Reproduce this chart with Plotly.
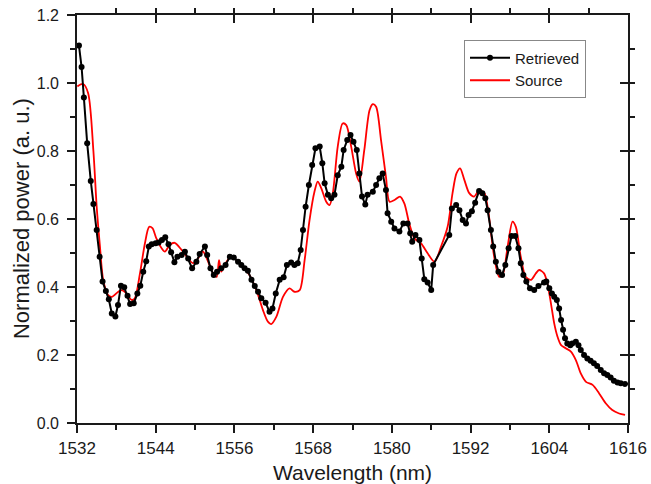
import plotly.graph_objects as go

# Retrieved spectrum (black, markers)
ret_wl = [1532.3, 1532.7, 1533.05, 1533.55, 1534.1, 1534.5, 1535.0, 1535.45, 1535.9, 1536.4,
          1536.85, 1537.3, 1537.85, 1538.25, 1538.7, 1539.2, 1539.7, 1540.1, 1540.65, 1541.2,
          1541.65, 1542.1, 1542.55, 1542.95, 1543.4, 1544.0, 1544.45, 1544.95, 1545.45, 1545.95,
          1546.35, 1546.85, 1547.3, 1547.95, 1548.45, 1548.95, 1549.55, 1550.2, 1550.7, 1551.5,
          1551.85, 1552.35, 1552.85, 1553.35, 1554.0, 1554.65, 1555.3, 1555.9, 1556.55, 1557.05,
          1557.55, 1558.05, 1558.6, 1559.1, 1559.6, 1560.1, 1560.75, 1561.35, 1561.8, 1562.3,
          1562.9, 1563.5, 1564.0, 1564.65, 1565.15, 1565.65, 1566.1, 1566.45, 1566.85, 1567.35,
          1567.85, 1568.35, 1569.0, 1569.4, 1569.75, 1570.25, 1570.75, 1571.25, 1571.75, 1572.3,
          1572.65, 1573.2, 1573.7, 1574.15, 1574.65, 1575.05, 1575.45, 1575.95, 1576.3, 1577.1,
          1577.6, 1578.1, 1578.6, 1579.1, 1579.35, 1579.9, 1580.4, 1581.15, 1581.75, 1582.4,
          1582.8, 1583.1, 1583.6, 1584.2, 1584.55, 1584.95, 1585.45, 1586.0, 1586.3, 1588.75,
          1589.15, 1589.8, 1590.3, 1590.8, 1591.3, 1591.7, 1592.2, 1592.7, 1593.3, 1593.8,
          1594.25, 1594.6, 1595.1, 1595.45, 1595.85, 1596.25, 1596.8, 1597.3, 1597.8, 1598.25,
          1598.8, 1599.3, 1599.65, 1600.05, 1600.5, 1601.05, 1601.7, 1602.35, 1603.2, 1603.55,
          1604.0, 1604.4, 1604.75, 1605.15, 1605.5, 1605.8, 1606.1, 1606.4, 1606.75, 1607.2,
          1607.5, 1608.05, 1608.45, 1608.8, 1609.3, 1609.8, 1610.3, 1610.8, 1611.3, 1611.85,
          1612.35, 1612.85, 1613.35, 1613.85, 1614.4, 1614.9, 1615.55]
ret_val = [1.11, 1.047, 0.957, 0.823, 0.712, 0.644, 0.568, 0.489, 0.416, 0.388,
           0.364, 0.322, 0.313, 0.347, 0.404, 0.399, 0.374, 0.350, 0.352, 0.381,
           0.404, 0.445, 0.476, 0.519, 0.526, 0.529, 0.531, 0.538, 0.546, 0.526,
           0.502, 0.473, 0.489, 0.494, 0.504, 0.484, 0.455, 0.474, 0.497, 0.519,
           0.494, 0.455, 0.435, 0.445, 0.455, 0.465, 0.489, 0.487, 0.474, 0.465,
           0.455, 0.448, 0.421, 0.403, 0.386, 0.367, 0.354, 0.327, 0.337, 0.381,
           0.421, 0.429, 0.465, 0.472, 0.465, 0.470, 0.509, 0.568, 0.636, 0.700,
           0.759, 0.808, 0.813, 0.764, 0.705, 0.671, 0.661, 0.671, 0.729, 0.754,
           0.803, 0.832, 0.847, 0.827, 0.803, 0.734, 0.666, 0.643, 0.671, 0.680,
           0.700, 0.720, 0.734, 0.685, 0.617, 0.592, 0.572, 0.563, 0.587, 0.587,
           0.558, 0.533, 0.553, 0.538, 0.484, 0.423, 0.413, 0.391, 0.465, 0.553,
           0.631, 0.641, 0.626, 0.597, 0.587, 0.612, 0.623, 0.648, 0.682, 0.676,
           0.661, 0.626, 0.568, 0.519, 0.474, 0.445, 0.435, 0.465, 0.514, 0.550,
           0.550, 0.514, 0.470, 0.435, 0.416, 0.396, 0.391, 0.403, 0.413, 0.416,
           0.396, 0.381, 0.371, 0.362, 0.337, 0.303, 0.274, 0.249, 0.234, 0.229,
           0.234, 0.239, 0.229, 0.215, 0.200, 0.190, 0.183, 0.176, 0.168, 0.156,
           0.146, 0.141, 0.134, 0.124, 0.119, 0.117, 0.115]

# Source spectrum (red, smooth)
src_wl = [1532.05, 1532.95, 1533.7, 1534.5, 1535.0, 1535.5, 1536.0, 1536.75, 1537.3, 1538.3,
          1538.8, 1539.55, 1540.3, 1540.8, 1541.6, 1542.35, 1543.0, 1543.5, 1544.1, 1544.9,
          1545.4, 1546.15, 1546.9, 1547.95, 1548.95, 1549.7, 1550.45, 1551.2, 1552.0, 1552.75,
          1553.3, 1553.65, 1554.0, 1554.65, 1555.55, 1556.3, 1557.3, 1558.3, 1559.35, 1560.35,
          1561.1, 1561.6, 1562.4, 1563.4, 1564.4, 1565.15, 1565.95, 1566.7, 1567.45, 1568.2,
          1568.7, 1569.25, 1570.0, 1570.5, 1571.0, 1571.75, 1572.5, 1573.05, 1573.8, 1574.55,
          1575.05, 1575.8, 1576.6, 1577.1, 1577.6, 1578.35, 1579.1, 1579.65, 1580.4, 1581.25,
          1581.9, 1582.65, 1583.45, 1584.45, 1585.45, 1586.5, 1587.5, 1588.5, 1589.25, 1589.85,
          1590.4, 1591.05, 1591.8, 1592.55, 1593.3, 1594.1, 1594.6, 1595.6, 1596.35, 1596.95,
          1597.65, 1598.4, 1598.9, 1599.65, 1600.4, 1601.2, 1601.95, 1602.45, 1603.2, 1603.7,
          1604.25, 1604.75, 1605.25, 1605.8, 1606.5, 1607.3, 1608.05, 1608.8, 1609.6, 1610.6,
          1611.6, 1612.6, 1613.6, 1614.65, 1615.55]
src_val = [0.990, 0.997, 0.970, 0.800, 0.636, 0.519, 0.420, 0.376, 0.371, 0.386,
           0.391, 0.381, 0.362, 0.366, 0.440, 0.528, 0.577, 0.573, 0.543, 0.514,
           0.504, 0.524, 0.530, 0.509, 0.484, 0.470, 0.484, 0.504, 0.474, 0.440,
           0.430, 0.479, 0.445, 0.470, 0.491, 0.479, 0.460, 0.435, 0.391, 0.332,
           0.298, 0.291, 0.313, 0.371, 0.396, 0.386, 0.391, 0.479, 0.597, 0.680,
           0.710, 0.690, 0.651, 0.641, 0.676, 0.813, 0.881, 0.876, 0.813, 0.734,
           0.710, 0.803, 0.920, 0.938, 0.930, 0.832, 0.724, 0.651, 0.656, 0.666,
           0.646, 0.587, 0.543, 0.528, 0.499, 0.474, 0.519, 0.577, 0.676, 0.734,
           0.749, 0.715, 0.676, 0.666, 0.685, 0.676, 0.636, 0.489, 0.430, 0.440,
           0.519, 0.592, 0.577, 0.489, 0.430, 0.421, 0.440, 0.450, 0.440, 0.411,
           0.352, 0.293, 0.254, 0.229, 0.220, 0.210, 0.185, 0.146, 0.121, 0.112,
           0.087, 0.058, 0.038, 0.028, 0.024]

x_ticks = [1532, 1544, 1556, 1568, 1580, 1592, 1604, 1616]
y_ticks = [0.0, 0.2, 0.4, 0.6, 0.8, 1.0, 1.2]
x_range = [1532, 1616]
y_range = [0, 1.2]

FONT = "Liberation Sans, Arial, sans-serif"
AX = "#1a1a1a"

fig = go.Figure()
fig.add_trace(go.Scatter(
    x=src_wl, y=src_val, mode="lines", name="Source",
    line=dict(color="#ff0000", width=1.8, shape="spline", smoothing=0.8),
    legendrank=2))
fig.add_trace(go.Scatter(
    x=ret_wl, y=ret_val, mode="lines+markers", name="Retrieved",
    line=dict(color="black", width=2),
    marker=dict(color="black", size=6),
    legendrank=1))
# invisible helper trace so the mirrored (top/right) axes are drawn
fig.add_trace(go.Scatter(
    x=x_range, y=y_range, xaxis="x2", yaxis="y2", mode="lines",
    line=dict(width=0, color="rgba(0,0,0,0)"), showlegend=False, hoverinfo="skip"))

common_x = dict(range=x_range, tickmode="array", tickvals=x_ticks, automargin=False,
                showline=True, linecolor=AX, linewidth=1.6, showgrid=False, zeroline=False,
                ticklen=8, tickwidth=1.6, tickcolor=AX,
                minor=dict(dtick=6, tick0=1532, ticklen=5, tickwidth=1.6, tickcolor=AX, showgrid=False))
common_y = dict(range=y_range, tickmode="array", tickvals=y_ticks, automargin=False,
                showline=True, linecolor=AX, linewidth=1.6, showgrid=False, zeroline=False,
                ticklen=8, tickwidth=1.6, tickcolor=AX,
                minor=dict(dtick=0.1, tick0=0, ticklen=5, tickwidth=1.6, tickcolor=AX, showgrid=False))

fig.update_layout(
    width=651, height=484,
    margin=dict(l=77, r=23, t=15, b=61, autoexpand=False),
    paper_bgcolor="white", plot_bgcolor="white",
    font=dict(family=FONT, color=AX),
    showlegend=True,
    legend=dict(x=0.702, y=0.938, xanchor="left", yanchor="top",
                bgcolor="white", bordercolor="#888888", borderwidth=1.2,
                font=dict(size=15, family=FONT, color=AX),
                itemwidth=40, tracegroupgap=0),
    xaxis=dict(**common_x, ticks="outside", tickformat="d", ticklabelstandoff=1,
               tickfont=dict(size=17, family=FONT, color=AX),
               title=dict(text="Wavelength (nm)", font=dict(size=21, family=FONT, color=AX), standoff=8)),
    yaxis=dict(**common_y, ticks="outside", tickformat=".1f", ticklabelstandoff=5,
               tickfont=dict(size=16, family=FONT, color=AX)),
    xaxis2=dict(**common_x, ticks="inside", overlaying="x", side="top", showticklabels=False),
    yaxis2=dict(**common_y, ticks="inside", overlaying="y", side="right", showticklabels=False),
    annotations=[dict(text="Normalized power (a. u.)", textangle=-90,
                      xref="paper", yref="paper", x=-0.1016, y=0.5,
                      xanchor="center", yanchor="middle", showarrow=False,
                      font=dict(size=22, family=FONT, color=AX))],
)

fig.write_html("out.html")
